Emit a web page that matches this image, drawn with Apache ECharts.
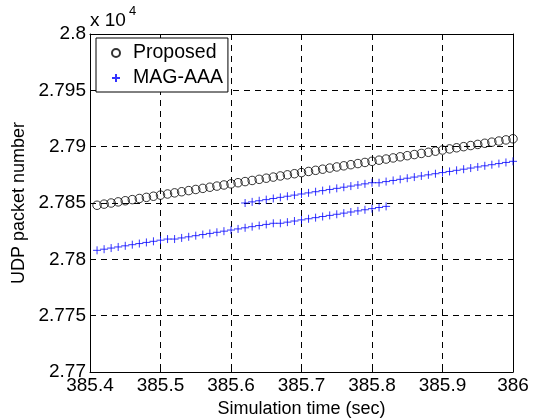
<!DOCTYPE html>
<html>
<head>
<meta charset="utf-8">
<script src="https://cdn.jsdelivr.net/npm/echarts@6/dist/echarts.min.js"></script>
<style>html,body{margin:0;padding:0;background:#fff}#c{width:540px;height:419px}</style>
</head>
<body>
<div id="c"></div>
<script>
const seriesNames = ['Proposed', 'MAG-AAA'];
const xTickLabels = ['385.4', '385.5', '385.6', '385.7', '385.8', '385.9', '386'];
const yTickLabels = ['2.77', '2.775', '2.78', '2.785', '2.79', '2.795', '2.8'];

const proposedTime = [385.41,385.42,385.43,385.44,385.45,385.46,385.47,385.48,385.49,385.50,
  385.51,385.52,385.53,385.54,385.55,385.56,385.57,385.58,385.59,385.60,
  385.61,385.62,385.63,385.64,385.65,385.66,385.67,385.68,385.69,385.70,
  385.71,385.72,385.73,385.74,385.75,385.76,385.77,385.78,385.79,385.80,
  385.81,385.82,385.83,385.84,385.85,385.86,385.87,385.88,385.89,385.90,
  385.91,385.92,385.93,385.94,385.95,385.96,385.97,385.98,385.99,386.00];
const proposedPackets = [27848,27849,27850,27851,27852,27853,27854,27855,27856,27857,
  27858,27859,27860,27861,27862,27863,27864,27865,27866,27867,
  27868,27869,27870,27871,27872,27873,27874,27875,27876,27877,
  27878,27879,27880,27881,27882,27883,27884,27885,27886,27887,
  27888,27889,27890,27891,27892,27893,27894,27895,27896,27897,
  27898,27899,27900,27901,27902,27903,27904,27905,27906,27907];

const magTimeA = [385.41,385.42,385.43,385.44,385.45,385.46,385.47,385.48,385.49,385.50,
  385.51,385.52,385.53,385.54,385.55,385.56,385.57,385.58,385.59,385.60,
  385.61,385.62,385.63,385.64,385.65,385.66,385.67,385.68,385.69,385.70,
  385.71,385.72,385.73,385.74,385.75,385.76,385.77,385.78,385.79,385.80,
  385.81,385.82];
const magPacketsA = [27808,27809,27810,27811,27812,27813,27814,27815,27816,27817,
  27818,27818,27819,27820,27821,27822,27823,27824,27825,27826,
  27827,27828,27829,27830,27831,27832,27832,27833,27834,27835,
  27836,27837,27838,27839,27840,27841,27842,27843,27844,27845,
  27846,27847];

const magTimeB = [385.62,385.63,385.64,385.65,385.66,385.67,385.68,385.69,385.70,
  385.71,385.72,385.73,385.74,385.75,385.76,385.77,385.78,385.79,385.80,
  385.81,385.82,385.83,385.84,385.85,385.86,385.87,385.88,385.89,385.90,
  385.91,385.92,385.93,385.94,385.95,385.96,385.97,385.98,385.99,386.00];
const magPacketsB = [27850,27851,27852,27853,27854,27855,27856,27857,27858,
  27859,27860,27861,27862,27863,27864,27865,27866,27867,27868,
  27868,27869,27870,27871,27872,27873,27874,27875,27876,27877,
  27878,27879,27880,27881,27882,27883,27884,27885,27886,27887];

const pairs = (xs, ys) => xs.map((x, i) => [x, ys[i]]);
const FONT = "'Liberation Sans', Arial, Helvetica, sans-serif";
const PLUS = 'path://M0,4L8,4M4,0L4,8';

const chart = echarts.init(document.getElementById('c'), null, {renderer: 'canvas'});
const dashed = {show: true, lineStyle: {color: '#000', width: 1, type: [6, 5]}};
const tick = {show: true, inside: true, length: 5, lineStyle: {color: '#000', width: 1}};
const axLine = {show: true, onZero: false, lineStyle: {color: '#000', width: 1}};
const xLabel = v => xTickLabels[Math.round((v - 385.4) / 0.1)];
const yLabel = v => yTickLabels[Math.round((v - 27700) / 50)];

chart.setOption({
  animation: false,
  textStyle: {fontFamily: FONT},
  grid: {left: 90, right: 27, top: 34, bottom: 47, containLabel: false, outerBoundsMode: 'none'},
  legend: {
    orient: 'vertical', left: 96, top: 38,
    padding: [5, 5, 4, 15], itemGap: 5,
    itemWidth: 24, itemHeight: 8,
    backgroundColor: '#fff', borderColor: '#000', borderWidth: 1, borderRadius: 0,
    textStyle: {fontFamily: FONT, fontSize: 19.5, color: '#000', lineHeight: 20},
    data: seriesNames
  },
  xAxis: [{
    type: 'value', min: 385.4, max: 386, interval: 0.1, position: 'bottom',
    name: 'Simulation time (sec)', nameLocation: 'middle', nameGap: 27,
    nameTextStyle: {fontFamily: FONT, fontSize: 18, color: '#000'},
    axisLine: axLine, axisTick: tick, splitLine: dashed,
    axisLabel: {fontFamily: FONT, fontSize: 19, color: '#000', margin: 4, formatter: xLabel, showMinLabel: true, showMaxLabel: true}
  }, {
    type: 'value', min: 385.4, max: 386, interval: 0.1, position: 'top',
    axisLine: axLine, axisTick: tick, splitLine: {show: false}, axisLabel: {show: false}
  }],
  yAxis: [{
    type: 'value', min: 27700, max: 28000, interval: 50, position: 'left',
    name: 'UDP packet number', nameLocation: 'middle', nameGap: 55, nameRotate: 90,
    nameTextStyle: {fontFamily: FONT, fontSize: 18, color: '#000'},
    axisLine: axLine, axisTick: tick, splitLine: dashed,
    axisLabel: {fontFamily: FONT, fontSize: 19, color: '#000', margin: 4, formatter: yLabel, showMinLabel: true, showMaxLabel: true}
  }, {
    type: 'value', min: 27700, max: 28000, interval: 50, position: 'right',
    axisLine: axLine, axisTick: tick, splitLine: {show: false}, axisLabel: {show: false}
  }],
  graphic: [
    {type: 'text', x: 90, y: 11, style: {text: 'x 10', fontFamily: FONT, fontSize: 19, fill: '#000', textVerticalAlign: 'top'}},
    {type: 'text', x: 129, y: 5, style: {text: '4', fontFamily: FONT, fontSize: 13, fill: '#000', textVerticalAlign: 'top'}}
  ],
  series: [{
    name: seriesNames[0], type: 'scatter', xAxisIndex: 0, yAxisIndex: 0,
    symbol: 'circle', symbolSize: 8.5,
    itemStyle: {color: 'rgba(0,0,0,0)', borderColor: '#000', borderWidth: 1},
    data: pairs(proposedTime, proposedPackets), z: 3
  }, {
    name: seriesNames[1], type: 'scatter', xAxisIndex: 0, yAxisIndex: 0,
    symbol: PLUS, symbolSize: 8,
    itemStyle: {color: 'rgba(0,0,0,0)', borderColor: '#0000ff', borderWidth: 1},
    data: pairs(magTimeA, magPacketsA), z: 3
  }, {
    name: seriesNames[1], type: 'scatter', xAxisIndex: 0, yAxisIndex: 0,
    symbol: PLUS, symbolSize: 8,
    itemStyle: {color: 'rgba(0,0,0,0)', borderColor: '#0000ff', borderWidth: 1},
    data: pairs(magTimeB, magPacketsB), z: 3
  }]
});
</script>
</body>
</html>
